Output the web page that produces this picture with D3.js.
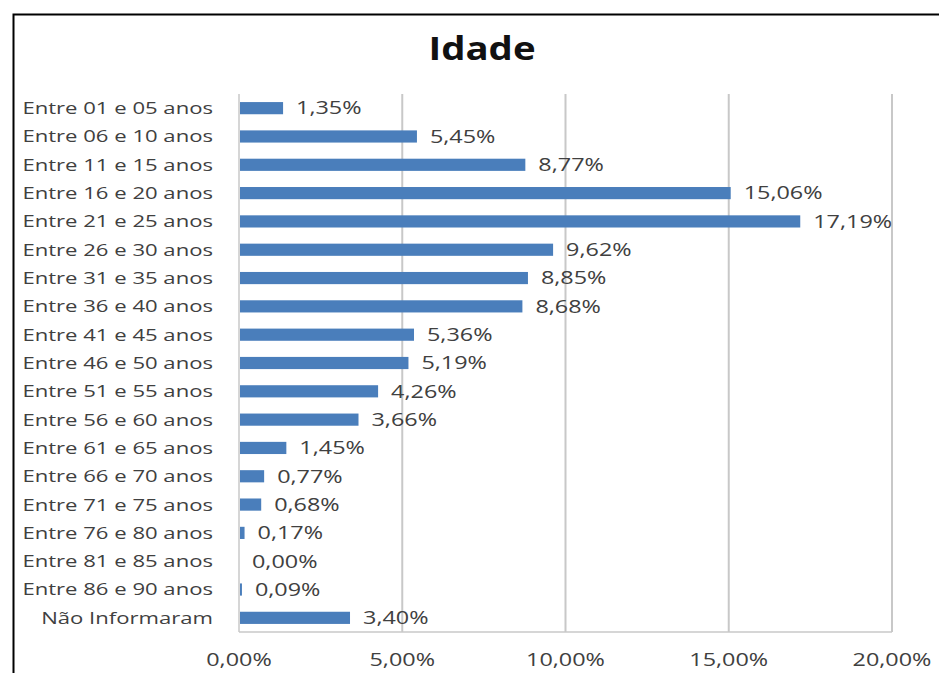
<!DOCTYPE html>
<html>
<head>
<meta charset="utf-8">
<script src="https://cdn.jsdelivr.net/npm/d3@7"></script>
<style>
  body { margin: 0; background: #fff; }
  svg { display: block; }
</style>
</head>
<body>
<svg id="chart" width="939" height="673"></svg>
<script>
// faixas etarias e percentuais
const categories = [
  "Entre 01 e 05 anos", "Entre 06 e 10 anos", "Entre 11 e 15 anos",
  "Entre 16 e 20 anos", "Entre 21 e 25 anos", "Entre 26 e 30 anos",
  "Entre 31 e 35 anos", "Entre 36 e 40 anos", "Entre 41 e 45 anos",
  "Entre 46 e 50 anos", "Entre 51 e 55 anos", "Entre 56 e 60 anos",
  "Entre 61 e 65 anos", "Entre 66 e 70 anos", "Entre 71 e 75 anos",
  "Entre 76 e 80 anos", "Entre 81 e 85 anos", "Entre 86 e 90 anos",
  "Não Informaram"
];
const values = [1.35, 5.45, 8.77, 15.06, 17.19, 9.62, 8.85, 8.68, 5.36,
  5.19, 4.26, 3.66, 1.45, 0.77, 0.68, 0.17, 0.00, 0.09, 3.40];
const ticks = [0, 5, 10, 15, 20];

const fmt = v => v.toFixed(2).replace(".", ",") + "%";
const font = "'Open Sans', sans-serif";
const sx = 1.3; // o original esta esticado na horizontal

const svg = d3.select("#chart");

// moldura (so esquerda e topo aparecem)
svg.append("path")
    .attr("d", "M13.5,673 L13.5,14.5 L939,14.5")
    .attr("fill", "none")
    .attr("stroke", "#000")
    .attr("stroke-width", 2);

svg.append("text")
    .text("Idade")
    .attr("text-anchor", "middle")
    .attr("transform", "translate(482,60) scale(1.2,1)")
    .style("font-family", font)
    .style("font-size", "32px")
    .style("font-weight", "bold")
    .attr("fill", "#111");

const x = d3.scaleLinear().domain([0, 20]).range([239, 892]);
const y = d3.scaleBand().domain(categories).range([94, 632]).paddingInner(0.57).paddingOuter(0.285);

// grade
svg.selectAll(".grid")
    .data(ticks.slice(1))
    .enter().append("line")
    .attr("x1", d => x(d)).attr("x2", d => x(d))
    .attr("y1", 94).attr("y2", 632)
    .attr("stroke", "#c8c8c8")
    .attr("stroke-width", 2);

svg.append("line")
    .attr("x1", x(0)).attr("x2", x(20))
    .attr("y1", 632).attr("y2", 632)
    .attr("stroke", "#c8c8c8")
    .attr("stroke-width", 1.5);

svg.append("line")
    .attr("x1", x(0)).attr("x2", x(0))
    .attr("y1", 94).attr("y2", 632)
    .attr("stroke", "#c8c8c8")
    .attr("stroke-width", 1.5);

// barras
svg.selectAll(".bar")
    .data(values)
    .enter().append("rect")
    .attr("x", x(0) + 1)
    .attr("y", (d, i) => y(categories[i]))
    .attr("width", d => Math.max(0, x(d) - x(0) - 1))
    .attr("height", y.bandwidth())
    .attr("fill", "#4a7ebb");

// rotulos de valor
svg.selectAll(".val")
    .data(values)
    .enter().append("text")
    .text(d => fmt(d))
    .attr("dy", "0.35em")
    .attr("transform", (d, i) =>
        "translate(" + (x(d) + 13) + "," + (y(categories[i]) + y.bandwidth() / 2) + ") scale(" + sx + ",1)")
    .style("font-family", font)
    .style("font-size", "18px")
    .attr("fill", "#404040");

// categorias
svg.selectAll(".cat")
    .data(categories)
    .enter().append("text")
    .text(d => d)
    .attr("dy", "0.35em")
    .attr("text-anchor", "end")
    .attr("transform", d =>
        "translate(213," + (y(d) + y.bandwidth() / 2) + ") scale(" + sx + ",1)")
    .style("font-family", font)
    .style("font-size", "17px")
    .attr("fill", "#404040");

// eixo x
svg.selectAll(".tick")
    .data(ticks)
    .enter().append("text")
    .text(d => fmt(d))
    .attr("text-anchor", "middle")
    .attr("transform", d => "translate(" + x(d) + ",666) scale(" + sx + ",1)")
    .style("font-family", font)
    .style("font-size", "18px")
    .attr("fill", "#404040");
</script>
</body>
</html>
